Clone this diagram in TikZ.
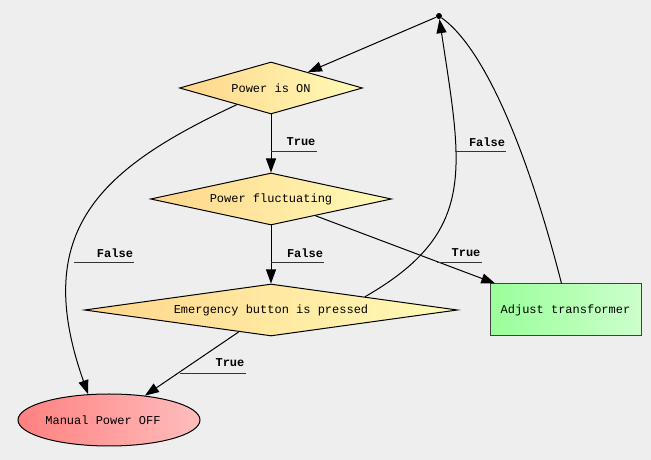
\documentclass[tikz,border=0pt]{standalone}
\usepackage{fontspec}
\setmonofont{Liberation Mono}
\usetikzlibrary{shapes.geometric,arrows.meta,calc}
\definecolor{bg}{HTML}{EEEEEE}
\definecolor{dl}{HTML}{FFD68A}
\definecolor{dr}{HTML}{FFFBB8}
\definecolor{el}{HTML}{FF8080}
\definecolor{er}{HTML}{FFBDBD}
\definecolor{rl}{HTML}{99FF99}
\definecolor{rr}{HTML}{CCFFCC}
\definecolor{ul}{HTML}{333333}
\tikzset{
  txt/.style={font=\ttfamily\fontsize{12}{14}\selectfont},
  dia/.style={txt, diamond, draw=black, line width=1pt, left color=dl, right color=dr, inner sep=0pt, minimum height=52pt},
  offnode/.style={txt, ellipse, draw=black, line width=1pt, left color=el, right color=er, inner sep=0pt, minimum width=182pt, minimum height=52pt},
  boxnode/.style={txt, rectangle, draw=black!75, line width=1pt, left color=rl, right color=rr, inner sep=0pt, minimum width=151pt, minimum height=52pt},
  dotnode/.style={circle, fill=black, inner sep=0pt, minimum size=6pt},
  arr/.style={line width=1pt, -{Triangle[length=14pt,width=10pt]}},
  plain/.style={line width=1pt},
  lbl/.style={font=\ttfamily\bfseries\fontsize{12}{14}\selectfont, inner sep=1pt},
  uline/.style={draw=ul, line width=1pt}
}
\begin{document}
\begin{tikzpicture}[x=1pt,y=1pt]
\fill[bg] (0,0) rectangle (651,460);
\useasboundingbox (0,0) rectangle (651,460);

\node[dotnode] (dot) at (439,444) {};
\node[dia, minimum width=183pt, shape aspect=3.52] (on) at (271,372) {Power is ON};
\node[dia, minimum width=241pt, shape aspect=4.63] (fl) at (271,261) {Power fluctuating};
\node[dia, minimum width=373pt, shape aspect=7.17] (em) at (271,150) {Emergency button is pressed};
\node[boxnode] (adj) at (565.5,150) {Adjust transformer};
\node[offnode] (off) at (109,40) {Manual Power OFF\hspace*{12pt}};

% edges
\draw[arr] (dot) -- (on);
\draw[arr] (on) -- (fl);
\draw[arr] (on.206.6) .. controls (101,292) and (30,230) .. (off.129);
\draw[arr] (fl) -- (em);
\draw[arr] (fl) -- (adj);
\draw[arr] (em.8.5) .. controls (478,228) and (462,291) .. (dot);
\draw[plain] ($(adj.north)+(-4,0)$) .. controls (531,296) and (488,409) .. (dot);
\draw[arr] (em) -- (off);

% labels
\node[lbl] (l1) at (301,318) {True};
\coordinate (c1) at (271,308);
\draw[uline] (c1) -- (c1 -| l1.east);

\node[lbl] (l2) at (115,207) {False};
\coordinate (c2) at (74,197);
\draw[uline] (c2) -- (c2 -| l2.east);

\node[lbl] (l3) at (305,207) {False};
\coordinate (c3) at (271,197);
\draw[uline] (c3) -- (c3 -| l3.east);

\node[lbl] (l4) at (466,207) {True};
\coordinate (c4) at (437,197);
\draw[uline] (c4) -- (c4 -| l4.east);

\node[lbl] (l5) at (487,318) {False};
\coordinate (c5) at (455,308);
\draw[uline] (c5) -- (c5 -| l5.east);

\node[lbl] (l6) at (230,97) {True};
\coordinate (c6) at (180,86);
\draw[uline] (c6) -- (c6 -| l6.east);
\end{tikzpicture}
\end{document}
